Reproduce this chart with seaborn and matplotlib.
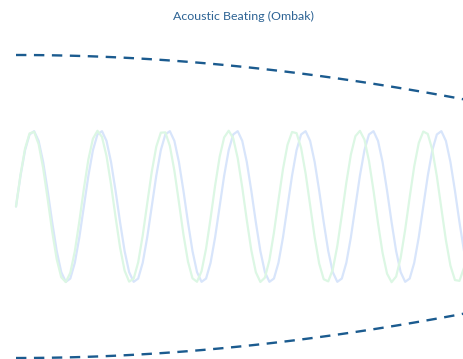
import numpy as np
import pandas as pd
import matplotlib
matplotlib.use("Agg")
import matplotlib.pyplot as plt
import seaborn as sns

# --- data ---
title = "Acoustic Beating (Ombak)"
freq_high = 6.85      # cycles over the shown span (green tone)
freq_low = 6.60       # cycles over the shown span (blue tone)
amplitude = 1.0
n_samples = 100
t = np.linspace(0.0, 1.0, n_samples)

tone_high = amplitude * np.sin(2 * np.pi * freq_high * t)
tone_low = amplitude * np.sin(2 * np.pi * freq_low * t)
beat = freq_high - freq_low
env_upper = 2 * amplitude * np.cos(np.pi * beat * t)
env_lower = -env_upper

df = pd.DataFrame({"t": t, "high": tone_high, "low": tone_low,
                   "up": env_upper, "lo": env_lower})

sns.set_theme(style="white")
plt.rcParams['font.family'] = ['Lato', 'DejaVu Sans']

W, H = 464, 359
fig = plt.figure(figsize=(W / 100, H / 100), dpi=100)
x0, x1 = 16, 464
ax = fig.add_axes([x0 / W, 0, (x1 - x0) / W, 1])

sns.lineplot(data=df, x="t", y="low", ax=ax, color="#d8e5fb", linewidth=1.6)
sns.lineplot(data=df, x="t", y="high", ax=ax, color="#dcf7e4", linewidth=1.6)
for col in ["up", "lo"]:
    sns.lineplot(data=df, x="t", y=col, ax=ax, color="#1b5b8f",
                 linewidth=1.7, dashes=False)
for ln in ax.lines[2:]:
    ln.set_dashes((4.4, 3.2))
for ln in ax.lines:
    ln.set_clip_on(False)

# y mapping: +2 at pixel 55, -2 at pixel 358
ppu = (358 - 55) / 4.0
ytop = 2 + 55 / ppu
ybot = -2 - (H - 358) / ppu
ax.set_ylim(ybot, ytop)
ax.set_xlim(0, 1)
ax.axis("off")

fig.text(243.5 / W, 1 - 16.5 / H, title, ha="center", va="center",
         fontsize=8.9, color="#2d6394")

fig.savefig("out.png", dpi=100)
